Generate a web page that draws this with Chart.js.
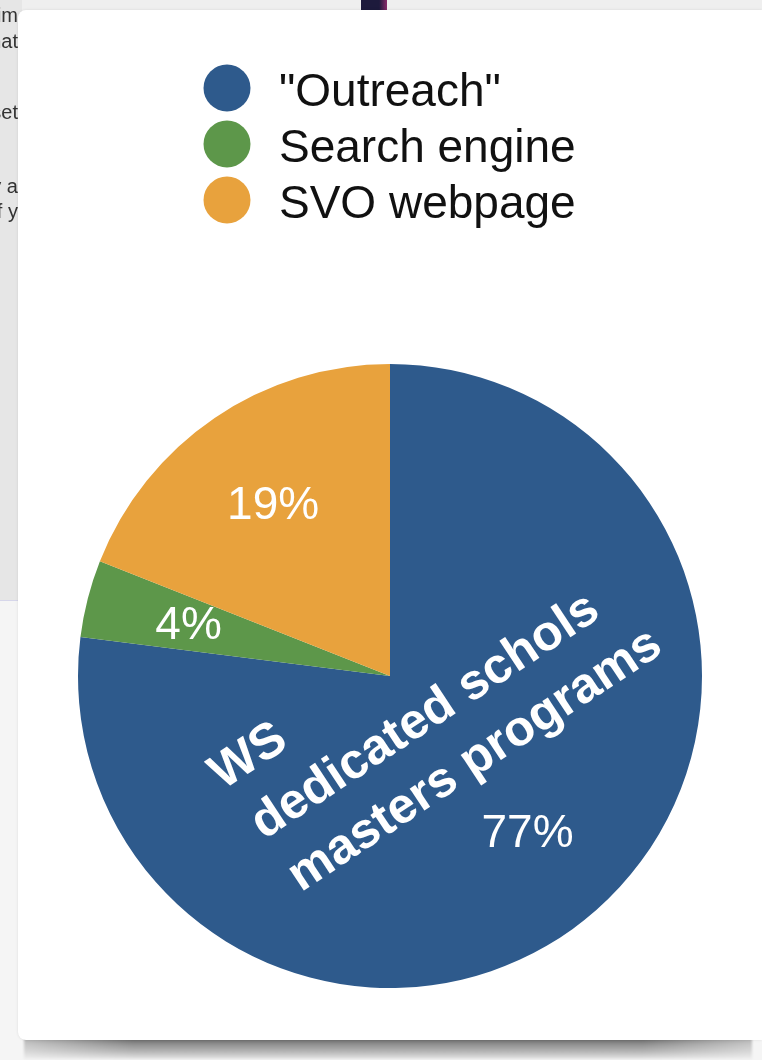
<!DOCTYPE html>
<html>
<head>
<meta charset="utf-8">
<title>How did you hear about us</title>
<script src="https://cdn.jsdelivr.net/npm/chart.js@4.4.1/dist/chart.umd.min.js"></script>
<style>
  html, body { margin: 0; padding: 0; }
  body { width: 762px; height: 1060px; position: relative; overflow: hidden; background: #f5f5f5; font-family: "Liberation Sans", Arial, sans-serif; }
  #topstrip { position: absolute; left: 0; top: 0; width: 762px; height: 14px; background: #efefef; }
  #thumb { position: absolute; left: 361px; top: 0; width: 26px; height: 11px; background: linear-gradient(to right, #1d1a3c 70%, #8a2a6a); }
  #sidepage { position: absolute; left: 0; top: 0; width: 22px; height: 600px; background: #e6e6e6; border-bottom: 1px solid #d6d6ea; overflow: hidden; }
  #sidepage div { position: absolute; right: 4px; font-size: 20px; color: #333; white-space: nowrap; filter: blur(0.5px); }
  #card { position: absolute; left: 18px; top: 10px; width: 744px; height: 1030px; background: #fff; border-radius: 8px 0 0 8px; box-shadow: 0 0 3px rgba(0,0,0,0.10); }
  #shadow { position: absolute; left: 24px; top: 1037px; width: 728px; height: 22px;
    background: linear-gradient(to right, rgba(245,245,245,0.55), rgba(245,245,245,0) 15%, rgba(245,245,245,0) 85%, rgba(245,245,245,0.55)),
                linear-gradient(to bottom, #505050 0, #707070 12%, #929292 35%, #b4b4b4 65%, #e6e6e6 100%);
    filter: blur(0.8px); }
  #chart { position: absolute; left: 0; top: 0; }
</style>
</head>
<body>
<div id="topstrip"></div>
<div id="thumb"></div>
<div id="sidepage">
  <div style="top: 4px;">tim</div>
  <div style="top: 30px;">that</div>
  <div style="top: 101px;">set</div>
  <div style="top: 175px;">by a</div>
  <div style="top: 200px;">of y</div>
</div>
<div id="shadow"></div>
<div id="card"></div>
<canvas id="chart" width="762" height="1060"></canvas>
<script>
// where respondents heard about the programme
const categories = ['"Outreach"', 'Search engine', 'SVO webpage'];
const shares = [77, 4, 19];
const sliceColors = ['#2e5a8c', '#5d974a', '#e8a23d'];
// note written across the outreach slice
const outreachNote = ['WS', 'dedicated schols', 'masters programs'];

const labelFont = '"Liberation Sans", Arial, sans-serif';

// stacked legend with round swatches above the pie
const stackedLegend = {
  id: 'stackedLegend',
  afterDraw(chart) {
    const ctx = chart.ctx;
    const colors = chart.data.datasets[0].backgroundColor;
    ctx.save();
    ctx.font = '46px ' + labelFont;
    ctx.textBaseline = 'alphabetic';
    ctx.textAlign = 'left';
    chart.data.labels.forEach((label, i) => {
      const cy = 88 + i * 56;
      ctx.fillStyle = colors[i];
      ctx.beginPath();
      ctx.arc(227, cy, 23.5, 0, Math.PI * 2);
      ctx.fill();
      ctx.fillStyle = '#111';
      ctx.fillText(label, 279, cy + 18);
    });
    ctx.restore();
  }
};

// percentages inside each slice, plus the outreach note
const sliceLabels = {
  id: 'sliceLabels',
  afterDatasetsDraw(chart) {
    const ctx = chart.ctx;
    const meta = chart.getDatasetMeta(0);
    const values = chart.data.datasets[0].data;
    ctx.save();
    ctx.fillStyle = '#fff';
    ctx.textAlign = 'center';
    ctx.textBaseline = 'middle';
    ctx.font = '46px ' + labelFont;
    meta.data.forEach((arc, i) => {
      const mid = (arc.startAngle + arc.endAngle) / 2;
      const r = arc.outerRadius * 2 / 3;
      ctx.fillText(values[i] + '%', arc.x + Math.cos(mid) * r, arc.y + Math.sin(mid) * r + 2);
    });

    const arc = meta.data[0];
    const R = arc.outerRadius;
    ctx.translate(arc.x - 0.404 * R, arc.y + 0.526 * R);
    ctx.rotate(-33.5 * Math.PI / 180);
    ctx.font = 'bold 50px ' + labelFont;
    ctx.textAlign = 'left';
    ctx.textBaseline = 'alphabetic';
    const offsets = [-7, 0, 2];
    outreachNote.forEach((line, i) => {
      ctx.fillText(line, offsets[i], (i - 1) * 64);
    });
    ctx.restore();
  }
};

new Chart(document.getElementById('chart'), {
  type: 'pie',
  data: {
    labels: categories,
    datasets: [{
      data: shares,
      backgroundColor: sliceColors,
      borderWidth: 0
    }]
  },
  options: {
    responsive: false,
    animation: false,
    layout: { padding: { left: 78, right: 60, top: 364, bottom: 72 } },
    plugins: {
      legend: { display: false },
      tooltip: { enabled: false }
    }
  },
  plugins: [stackedLegend, sliceLabels]
});
</script>
</body>
</html>
